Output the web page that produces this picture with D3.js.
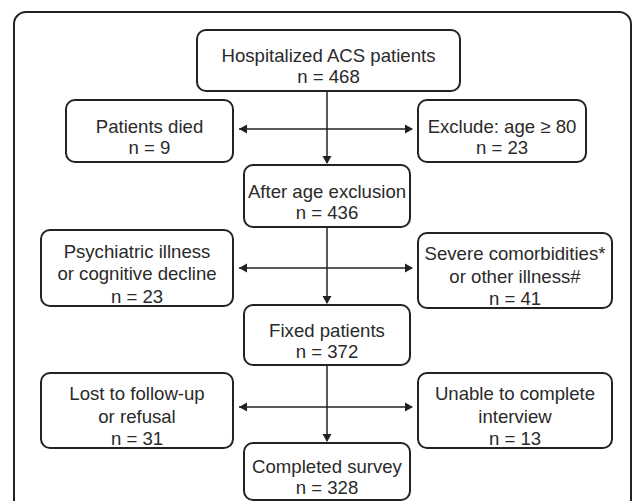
<!DOCTYPE html>
<html>
<head>
<meta charset="utf-8">
<script src="https://cdn.jsdelivr.net/npm/d3@7"></script>
<style>
  html, body { margin: 0; padding: 0; background: #fff; }
  svg { display: block; }
</style>
</head>
<body>
<div id="chart"></div>
<script>
// flow data
const mainSteps = ["Hospitalized ACS patients", "After age exclusion", "Fixed patients", "Completed survey"];
const mainCounts = [468, 436, 372, 328];
const leftLabels = [["Patients died"], ["Psychiatric illness", "or cognitive decline"], ["Lost to follow-up", "or refusal"]];
const leftCounts = [9, 23, 31];
const rightLabels = [["Exclude: age \u2265 80"], ["Severe comorbidities*", "or other illness#"], ["Unable to complete", "interview"]];
const rightCounts = [23, 41, 13];

const width = 633, height = 501;
const ink = "#222";

// layout (pixels)
const mainBox = [
  {x0: 197, x1: 460, y0: 30, y1: 91},
  {x0: 244, x1: 410, y0: 165, y1: 227},
  {x0: 244, x1: 410, y0: 305, y1: 365},
  {x0: 244, x1: 410, y0: 443, y1: 500}
];
const leftBox = [
  {x0: 66, x1: 233, y0: 100, y1: 162},
  {x0: 41, x1: 233, y0: 230, y1: 306},
  {x0: 41, x1: 233, y0: 373, y1: 448}
];
const rightBox = [
  {x0: 418, x1: 586, y0: 100, y1: 162},
  {x0: 418, x1: 612, y0: 233, y1: 308},
  {x0: 418, x1: 612, y0: 373, y1: 448}
];
const arrowY = [129, 268, 407];
const spineX = 327;

const svg = d3.select("#chart").append("svg")
    .attr("width", width).attr("height", height);

// outer frame
svg.append("rect")
    .attr("x", 14).attr("y", 12)
    .attr("width", 617).attr("height", 520)
    .attr("rx", 12).attr("ry", 12)
    .attr("fill", "none").attr("stroke", ink).attr("stroke-width", 2);

function arrowHead(g, x, y, dir) {
  // dir: "down", "left", "right"
  var L = 8, W = 4.5, pts;
  if (dir === "down") pts = [[x, y], [x - W, y - L], [x + W, y - L]];
  else if (dir === "left") pts = [[x, y], [x + L, y - W], [x + L, y + W]];
  else pts = [[x, y], [x - L, y - W], [x - L, y + W]];
  g.append("path").attr("d", d3.line()(pts) + "Z").attr("fill", ink);
}

function drawBox(b, lines) {
  var g = svg.append("g");
  g.append("rect")
      .attr("x", b.x0).attr("y", b.y0)
      .attr("width", b.x1 - b.x0).attr("height", b.y1 - b.y0)
      .attr("rx", 9).attr("ry", 9)
      .attr("fill", "#fff").attr("stroke", ink).attr("stroke-width", 2);
  var cx = (b.x0 + b.x1) / 2, cy = (b.y0 + b.y1) / 2, lh = lines.length > 2 ? 22.5 : 21;
  lines.forEach(function(t, i) {
    g.append("text")
        .attr("x", cx)
        .attr("y", cy + (i - (lines.length - 1) / 2) * lh + 12)
        .attr("text-anchor", "middle")
        .attr("font-family", "'Liberation Sans', Arial, sans-serif")
        .attr("font-size", 18.6)
        .attr("fill", "#2a2a2a")
        .text(t);
  });
}

// connectors
var links = svg.append("g");
for (var i = 0; i < mainBox.length - 1; i++) {
  links.append("line")
      .attr("x1", spineX).attr("x2", spineX)
      .attr("y1", mainBox[i].y1).attr("y2", mainBox[i + 1].y0 - 2)
      .attr("stroke", ink).attr("stroke-width", 1.5);
  arrowHead(links, spineX, mainBox[i + 1].y0 - 1, "down");

  var ay = arrowY[i];
  links.append("line")
      .attr("x1", leftBox[i].x1 + 6).attr("x2", rightBox[i].x0 - 6)
      .attr("y1", ay).attr("y2", ay)
      .attr("stroke", ink).attr("stroke-width", 1.5);
  arrowHead(links, leftBox[i].x1 + 6, ay, "left");
  arrowHead(links, rightBox[i].x0 - 5, ay, "right");
}

mainSteps.forEach(function(s, i) { drawBox(mainBox[i], [s, "n = " + mainCounts[i]]); });
leftLabels.forEach(function(l, i) { drawBox(leftBox[i], l.concat(["n = " + leftCounts[i]])); });
rightLabels.forEach(function(l, i) { drawBox(rightBox[i], l.concat(["n = " + rightCounts[i]])); });
</script>
</body>
</html>
